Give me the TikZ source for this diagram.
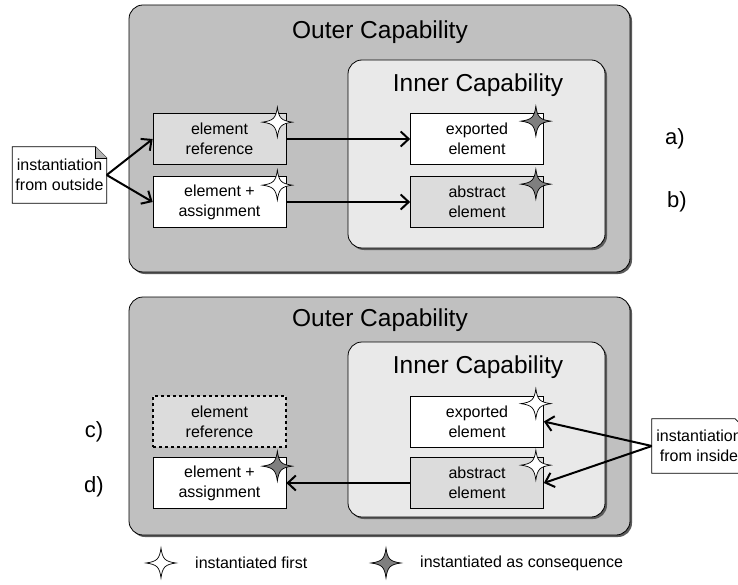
\documentclass[tikz,border=0pt]{standalone}
\usepackage{fontspec}
\setmainfont{Liberation Sans}
\usetikzlibrary{arrows.meta}
\definecolor{outerfill}{HTML}{C0C0C0}
\definecolor{innerfill}{HTML}{E9E9E9}
\definecolor{elemgray}{HTML}{DCDCDC}
\definecolor{stargray}{HTML}{7F7F7F}
\definecolor{shadowc}{HTML}{5A5A5A}
\begin{document}
\begin{tikzpicture}[x=1pt,y=-1pt,
  capbox/.style={draw=black, line width=0.8pt, rounded corners=14pt},
  capshadow/.style={fill=shadowc, draw=none, rounded corners=14pt},
  elem/.style={draw=black, line width=0.7pt, minimum width=133pt, minimum height=51pt, align=center, font=\fontsize{16}{20}\selectfont, inner sep=0pt},
  captitle/.style={font=\fontsize{24.5}{28}\selectfont, inner sep=0pt},
  tag/.style={font=\fontsize{22}{26}\selectfont, inner sep=0pt},
  notetext/.style={minimum width=94pt, minimum height=56pt, align=center, font=\fontsize{16}{20}\selectfont, inner sep=0pt},
  legtext/.style={font=\fontsize{16}{20}\selectfont, inner sep=0pt, anchor=west},
  arr/.style={line width=2pt, -{Straight Barb[length=8pt,width=15pt,line width=2pt]}},
  fourstar/.pic={\draw[line width=0.7pt, pic actions] (0,-15) .. controls (1.5,-4) and (4,-1.5) .. (15,0) .. controls (4,1.5) and (1.5,4) .. (0,15) .. controls (-1.5,4) and (-4,1.5) .. (-15,0) .. controls (-4,-1.5) and (-1.5,-4) .. cycle;}
]
\useasboundingbox (0,0) rectangle (738,585);

% ---------- top part ----------
\fill[capshadow] (131,7) rectangle (632,274);
\filldraw[capbox, fill=outerfill] (129,5) rectangle (630,272);
\node[captitle] (t1) at (380,32) {Outer Capability};
\fill[capshadow] (350,62) rectangle (607,250);
\filldraw[capbox, fill=innerfill] (348,60) rectangle (605,248);
\node[captitle] (i1) at (478,85) {Inner Capability};

\node[elem, fill=elemgray] (eref1) at (219.5,139) {element\\reference};
\node[elem, fill=white] (ea1) at (219.5,202) {element +\\assignment};
\node[elem, fill=white] (exp1) at (477,139) {exported\\element};
\node[elem, fill=elemgray] (abs1) at (477,202) {abstract\\element};

\pic[fill=white] at ([shift={(-9,9)}]eref1.north east) {fourstar};
\pic[fill=white] at ([shift={(-9,9)}]ea1.north east) {fourstar};
\pic[fill=stargray] at ([shift={(-8,8)}]exp1.north east) {fourstar};
\pic[fill=stargray] at ([shift={(-8,8)}]abs1.north east) {fourstar};

\draw[arr] (eref1.east) -- (exp1.west);
\draw[arr] (ea1.east) -- (abs1.west);

\node[notetext] (n1) at (59.5,175) {instantiation\\from outside};
\filldraw[fill=white, line width=0.7pt] (n1.south west) -- (n1.north west) -- ([xshift=-11pt]n1.north east) -- ([yshift=-11pt]n1.north east) -- (n1.south east) -- cycle;
\filldraw[fill=stargray!60, line width=0.5pt] ([xshift=-11pt]n1.north east) -- ([xshift=-11pt,yshift=-11pt]n1.north east) -- ([yshift=-11pt]n1.north east);
\node[notetext] at (n1) {instantiation\\from outside};
\draw[arr] (n1.east) -- (eref1.west);
\draw[arr] (n1.east) -- (ea1.west);

\node[tag] (la) at (675,139) {a)};
\node[tag] (lb) at (677,202) {b)};

% ---------- bottom part ----------
\fill[capshadow] (131,299) rectangle (632,537);
\filldraw[capbox, fill=outerfill] (129,297) rectangle (630,535);
\node[captitle] (t2) at (380,320) {Outer Capability};
\fill[capshadow] (350,344) rectangle (607,519);
\filldraw[capbox, fill=innerfill] (348,342) rectangle (605,517);
\node[captitle] (i2) at (478,367) {Inner Capability};

\node[elem, fill=elemgray, dashed, line width=1.2pt] (eref2) at (219.5,421.5) {element\\reference};
\node[elem, fill=white] (ea2) at (219.5,483) {element +\\assignment};
\node[elem, fill=white] (exp2) at (477,421.5) {exported\\element};
\node[elem, fill=elemgray] (abs2) at (477,483) {abstract\\element};

\pic[fill=stargray] at ([shift={(-9,9)}]ea2.north east) {fourstar};
\pic[fill=white] at ([shift={(-8,8)}]exp2.north east) {fourstar};
\pic[fill=white] at ([shift={(-8,8)}]abs2.north east) {fourstar};

\draw[arr] (abs2.west) -- (ea2.east);

\node[notetext, minimum height=54pt] (n2) at (699,446) {instantiation\\from inside};
\filldraw[fill=white, line width=0.7pt] (n2.south west) -- (n2.north west) -- ([xshift=-11pt]n2.north east) -- ([yshift=-11pt]n2.north east) -- (n2.south east) -- cycle;
\node[notetext, minimum height=54pt] at (n2) {instantiation\\from inside};
\draw[arr] (n2.west) -- (exp2.east);
\draw[arr] (n2.west) -- (abs2.east);

\node[tag] (lc) at (94,432) {c)};
\node[tag] (ld) at (94,487) {d)};

% ---------- legend ----------
\pic[fill=white] at (161,563) {fourstar};
\node[legtext] (l1) at (195,563) {instantiated first};
\pic[fill=stargray] at (386,563) {fourstar};
\node[legtext] (l2) at (420,563) {instantiated as consequence};
\end{tikzpicture}
\end{document}
